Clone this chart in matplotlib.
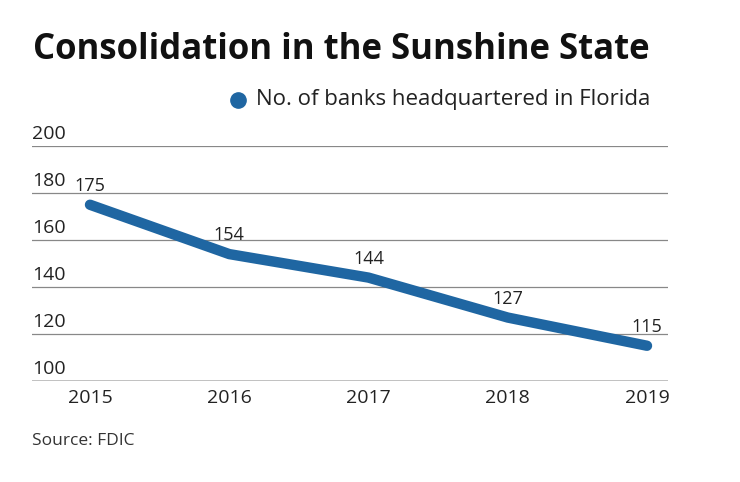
import matplotlib
matplotlib.use("Agg")
import matplotlib.pyplot as plt
import matplotlib.transforms as mtransforms
from matplotlib.lines import Line2D

years = [2015, 2016, 2017, 2018, 2019]
banks = [175, 154, 144, 127, 115]
y_ticks = [100, 120, 140, 160, 180, 200]
title = "Consolidation in the Sunshine State"
legend_label = "No. of banks headquartered in Florida"
source = "Source: FDIC"

W, H = 740, 482
fig = plt.figure(figsize=(W/100, H/100), dpi=100)
plt.rcParams['font.family'] = ['Open Sans', 'DejaVu Sans']

left, right, top, bottom = 32, 668, 146, 381
ax = fig.add_axes([left/W, 1-bottom/H, (right-left)/W, (bottom-top)/H])
ax.set_xlim(2015 - 58/139.25, 2019 + 21/139.25)
ax.set_ylim(100, 200)
for s in ax.spines.values():
    s.set_visible(False)
ax.set_yticks(y_ticks)
ax.set_yticklabels([])
ax.tick_params(axis='y', length=0)
ax.set_xticks(years)
ax.set_xticklabels([str(y) for y in years], fontsize=14, color='#222222')
ax.tick_params(axis='x', length=0, pad=6)
for t in y_ticks:
    if t == 100:
        ax.axhline(t, color='#bbbbbb', lw=2, zorder=1)
    else:
        ax.axhline(t, color='#888888', lw=0.9, zorder=1)
trans = mtransforms.blended_transform_factory(ax.transAxes, ax.transData)
for t in y_ticks:
    ax.annotate(str(t), xy=(0, t), xycoords=trans, xytext=(0, 2), textcoords='offset points',
                ha='left', va='bottom', fontsize=14, color='#222222')

ax.plot(years, banks, color='#1f66a2', lw=7.5, solid_capstyle='round', solid_joinstyle='round', zorder=3)
for x, y in zip(years, banks):
    ax.annotate(str(y), xy=(x, y), xytext=(0, 7), textcoords='offset points',
                ha='center', va='bottom', fontsize=13, color='#222222', zorder=4)

fig.text(33/W, 1-50/H, title, fontsize=25, fontweight='bold', ha='left', va='center', color='#111111')
fig.text(256/W, 1-100/H, legend_label, fontsize=16, ha='left', va='center', color='#222222')
fig.add_artist(Line2D([238/W], [1-100/H], marker='o', markersize=11, color='#1f66a2',
                      transform=fig.transFigure, linestyle='none'))
fig.text(32/W, 1-441/H, source, fontsize=12.5, ha='left', va='center', color='#333333')

fig.savefig("out.png", dpi=100)
